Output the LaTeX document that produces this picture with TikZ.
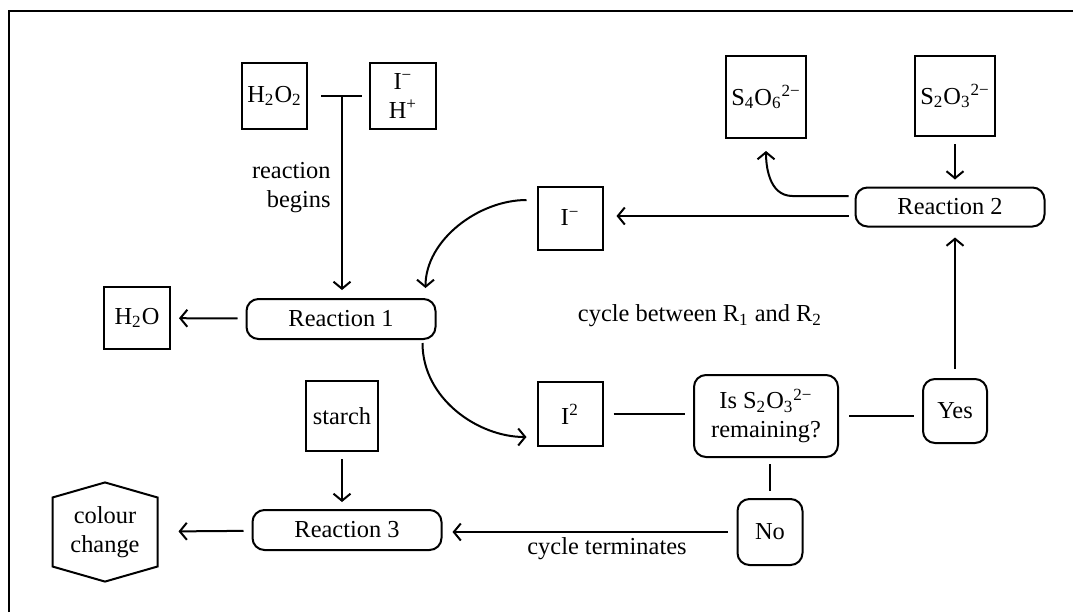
\documentclass[tikz,border=0pt]{standalone}
\usepackage{fontspec}
\setmainfont{Liberation Serif}
\usetikzlibrary{arrows.meta,shapes.symbols}
\tikzset{
  sp/.style={draw, line width=1pt, align=center, inner sep=1pt},
  rx/.style={draw, line width=1pt, rounded corners=6pt, minimum width=94.5pt, minimum height=20pt, inner sep=1pt},
  q/.style={draw, line width=1pt, rounded corners=6pt, align=center, inner sep=1pt},
  hexa/.style={draw, line width=1pt, signal, signal to=north and south, signal pointer angle=148, minimum width=52.5pt, minimum height=45pt, align=center, inner sep=1pt},
  arr/.style={-{Straight Barb[length=3.5pt,width=8.5pt]}, line width=1pt, shorten <=4pt, shorten >=4pt},
  ln/.style={line width=1pt, shorten <=4pt, shorten >=4pt},
  lbl/.style={align=center, inner sep=0pt},
}
\begin{document}
\begin{tikzpicture}[x=0.5pt, y=-0.5pt, font=\fontsize{12.2}{14.5}\selectfont]
    \useasboundingbox (0,0) rectangle (1073,612);
    \draw[line width=0.9pt] (9,612) -- (9,11) -- (1073,11);
    \node[sp, minimum width=32.5pt, minimum height=33pt] (hoo) at (274.5,96) {H\textsubscript{2}O\textsubscript{2}};
    \node[sp, minimum width=33pt, minimum height=33pt] (ih) at (403,96) {I\textsuperscript{−}\\H\textsuperscript{+}};
    \node[lbl, anchor=east, align=right] (beg) at (331,188) {reaction\\begins};
    \node[rx] (r1) at (341,319) {Reaction 1};
    \node[sp, minimum width=33pt, minimum height=31pt] (ho) at (137,318) {H\textsubscript{2}O};
    \node[sp, minimum width=36pt, minimum height=35pt] (st) at (342,416) {starch};
    \node[rx] (r3) at (347,530) {Reaction 3};
    \node[hexa] (cc) at (105,532) {colour\\change};
    \node[sp, minimum width=40pt, minimum height=41pt] (sfo) at (766,97) {S\textsubscript{4}O\textsubscript{6}\textsuperscript{2−}};
    \node[sp, minimum width=40pt, minimum height=40pt] (sto) at (955,96) {S\textsubscript{2}O\textsubscript{3}\textsuperscript{2−}};
    \node[rx, minimum height=19.5pt] (r2) at (950,207) {Reaction 2};
    \node[sp, minimum width=32.5pt, minimum height=31.5pt] (im) at (570,218) {I\textsuperscript{−}};
    \node[lbl] (cyc) at (700,316) {cycle between R\textsubscript{1} and R\textsubscript{2}};
    \node[sp, minimum width=32.5pt, minimum height=32pt] (itw) at (570,414) {I\textsuperscript{2}};
    \node[q, minimum width=72pt, minimum height=41pt] (rem) at (766,416) {Is S\textsubscript{2}O\textsubscript{3}\textsuperscript{2−}\\remaining?};
    \node[q, minimum width=32pt, minimum height=32pt] (yes) at (955,411) {Yes};
    \node[q, minimum width=32.5pt, minimum height=33pt] (no) at (770,532) {No};
    \node[lbl] (term) at (607,549) {cycle terminates};
    \coordinate (jn) at (342,97);
    \draw[ln, shorten <=6.5pt, shorten >=3.5pt] (hoo) -- (ih);
    \draw[arr, shorten <=0pt] (jn) -- (jn |- r1.north);
    \draw[arr] (r1) -- (ho);
    \draw[arr, shorten <=3.5pt, shorten >=3.5pt] (st.south) -- (st.south |- r3.north);
    \draw[arr, shorten >=10pt] (r3) -- (cc);
    \draw[arr, shorten <=3.5pt, shorten >=3.5pt] (sto.south) -- (sto.south |- r2.north);
    \draw[arr, shorten <=3pt, shorten >=6pt] ([yshift=5.5pt]r2.west) -- ++(-62,0) to[out=180,in=-90] (sfo.south);
    \draw[arr, shorten <=3pt, shorten >=6.5pt] ([yshift=-4.5pt]r2.west) -- ([yshift=-4.5pt]r2.west -| im.east);
    \draw[arr, shorten <=5pt, shorten >=5pt] ([yshift=9pt]im.west) to[out=180,in=90] ([xshift=-5.5pt]r1.north east);
    \draw[arr, shorten <=1.5pt, shorten >=5pt] ([xshift=-7pt]r1.south east) to[out=-90,in=180] ([yshift=-11.5pt]itw.west);
    \draw[ln, shorten <=5pt] (itw.east) -- (itw.east -| rem.west);
    \draw[ln, shorten <=5pt] (rem.east) -- (rem.east -| yes.west);
    \draw[ln, shorten <=3pt, shorten >=3.5pt] (no.north |- rem.south) -- (no.north);
    \draw[arr, shorten <=4.5pt, shorten >=5pt] (yes.north) -- (yes.north |- r2.south);
    \draw[arr, shorten <=4.5pt, shorten >=5pt] (no.west) -- (no.west -| r3.east);
\end{tikzpicture}
\end{document}
